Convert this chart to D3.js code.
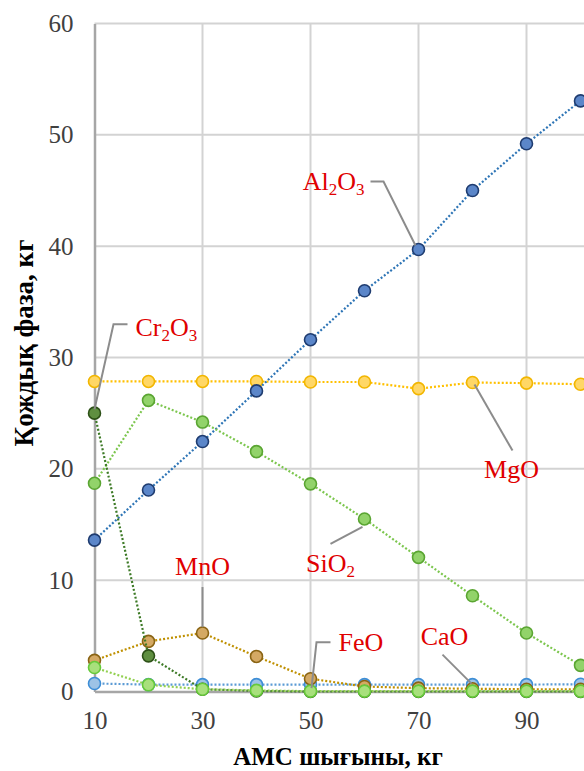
<!DOCTYPE html>
<html><head><meta charset="utf-8">
<script src="https://cdn.jsdelivr.net/npm/d3@7"></script>
<style>
html,body{margin:0;padding:0;background:#fff;overflow:hidden;}
svg{display:block;}
svg text{font-family:'Liberation Serif','Times New Roman',serif;}
</style></head>
<body><svg id="c" width="584" height="771"></svg>
<script>
// ---- data ----
const xValues = [10,20,30,40,50,60,70,80,90,100];
const xTicks = [10,30,50,70,90];
const xGrid = [10,30,50,70,90,110];
const yTicks = [0,10,20,30,40,50,60];
const seriesNames = ["MgO","Al2O3","SiO2","CaO","MnO","Cr2O3","FeO"];
const MgO   = [27.85,27.85,27.85,27.85,27.8,27.8,27.2,27.75,27.7,27.6];
const Al2O3 = [13.6,18.1,22.45,27.0,31.6,36.0,39.7,45.0,49.2,53.05];
const SiO2  = [18.7,26.15,24.2,21.55,18.65,15.5,12.05,8.6,5.25,2.35];
const CaO   = [0.72,0.62,0.62,0.62,0.62,0.62,0.62,0.62,0.62,0.65];
const MnO   = [2.8,4.5,5.25,3.15,1.15,0.45,0.3,0.25,0.2,0.2];
const Cr2O3 = [25.0,3.2,0.2,0.05,0,0,0,0,0,0];
const FeO   = [2.15,0.6,0.2,0.1,0.03,0.03,0.03,0.03,0.03,0.03];
const xTitle = "АМС шығыны, кг";
const yTitle = "Қождық фаза, кг";

const values = {MgO, Al2O3, SiO2, CaO, MnO, Cr2O3, FeO};
const styles = {
  MgO:   {line:"#FFC000", fill:"#FFD766", stroke:"#F2B600"},
  Al2O3: {line:"#2E75B6", fill:"#5B86C9", stroke:"#1F3C70"},
  SiO2:  {line:"#7CC64E", fill:"#92D36A", stroke:"#5AA532"},
  CaO:   {line:"#5B9BD5", fill:"#9DC3E6", stroke:"#3E8ED6"},
  MnO:   {line:"#BF9000", fill:"#D4A964", stroke:"#8A6414"},
  Cr2O3: {line:"#3D7A26", fill:"#5F8F40", stroke:"#2D5117"},
  FeO:   {line:"#92D050", fill:"#A8E07C", stroke:"#66C93A"}
};
// annotations: label text parts [text, isSub], anchor point series/index, pixel offsets
const annotations = [
  {series:"Al2O3", i:6, parts:[["Al",0],["2",1],["O",0],["3",1]], anchor:"end", tx:-54, ty:-60, path:[[-48,-68],[-35,-68],[-3,-4]]},
  {series:"Cr2O3", i:0, parts:[["Cr",0],["2",1],["O",0],["3",1]], anchor:"start", tx:41, ty:-77, path:[[33,-89],[19,-89],[0,-4]]},
  {series:"MgO", i:7, parts:[["MgO",0]], anchor:"middle", tx:39, ty:95, path:[[40,68],[2,2]]},
  {series:"MnO", i:2, parts:[["MnO",0]], anchor:"middle", tx:0, ty:-58, path:[[0,-46],[0,-6]]},
  {series:"SiO2", i:5, parts:[["SiO",0],["2",1]], anchor:"middle", tx:-34, ty:53, path:[[-34,25],[-2,8]]},
  {series:"FeO", i:4, parts:[["FeO",0]], anchor:"start", tx:28, ty:-40, path:[[20,-49],[6,-49],[1,-3]]},
  {series:"CaO", i:7, parts:[["CaO",0]], anchor:"middle", tx:-28, ty:-40, path:[[-30,-30],[-1,-1]]}
];

// ---- scales ----
const x = d3.scaleLinear().domain([10,110]).range([94.5,634.5]);
const y = d3.scaleLinear().domain([0,60]).range([691.5,23.5]);
const svg = d3.select("#c");
const FONT = "'Liberation Serif','Times New Roman',serif";

// gridlines
const grid = svg.append("g");
grid.selectAll("line.h").data(yTicks.filter(d=>d>0)).join("line")
  .attr("x1",x(10)).attr("x2",x(110)).attr("y1",d=>y(d)).attr("y2",d=>y(d))
  .attr("stroke","#D3D3D3").attr("stroke-width",2);
grid.selectAll("line.v").data(xGrid.filter(d=>d>10)).join("line")
  .attr("y1",y(0)).attr("y2",y(60)).attr("x1",d=>x(d)).attr("x2",d=>x(d))
  .attr("stroke","#D3D3D3").attr("stroke-width",2);

// axes
const xAxis = d3.axisBottom(x).tickValues(xTicks).tickSize(0).tickPadding(20).tickFormat(d3.format("d"));
const yAxis = d3.axisLeft(y).tickValues(yTicks).tickSize(0).tickPadding(21).tickFormat(d3.format("d"));
const gx = svg.append("g").attr("transform",`translate(0,${y(0)})`).call(xAxis);
const gy = svg.append("g").attr("transform",`translate(${x(10)},0)`).call(yAxis);
[gx,gy].forEach(g=>{
  g.attr("font-family",FONT).attr("font-size",25);
  g.select(".domain").attr("stroke","#A6A6A6").attr("stroke-width",2.5);
  g.selectAll("text").attr("font-family",FONT).attr("font-size",25).attr("fill","#404040");
});

// series
const lineGen = d3.line().x((d,i)=>x(xValues[i])).y(d=>y(d));
seriesNames.forEach(name=>{
  const st = styles[name], vals = values[name];
  const g = svg.append("g");
  g.append("path").attr("d",lineGen(vals)).attr("fill","none")
    .attr("stroke",st.line).attr("stroke-width",2.2).attr("stroke-dasharray","2,2");
  g.selectAll("circle").data(vals).join("circle")
    .attr("cx",(d,i)=>x(xValues[i])).attr("cy",d=>y(d)).attr("r",6)
    .attr("fill",st.fill).attr("stroke",st.stroke).attr("stroke-width",1.6);
});

// annotations
annotations.forEach(a=>{
  const px = x(xValues[a.i]), py = y(values[a.series][a.i]);
  svg.append("path").attr("d",d3.line()(a.path.map(p=>[px+p[0],py+p[1]])))
    .attr("fill","none").attr("stroke","#8C8C8C").attr("stroke-width",2);
  const t = svg.append("text").attr("x",px+a.tx).attr("y",py+a.ty)
    .attr("text-anchor",a.anchor).attr("font-family",FONT).attr("font-size",26).attr("fill","#E00000");
  let prevSub = false;
  a.parts.forEach(p=>{
    const sub = !!p[1];
    t.append("tspan").attr("font-size",sub?17:26).attr("dy",sub?5:(prevSub?-5:0)).text(p[0]);
    prevSub = sub;
  });
});

// titles
svg.append("text").attr("x",338).attr("y",765).attr("text-anchor","middle").attr("font-family",FONT)
  .attr("font-size",25).attr("font-weight","bold").attr("fill","#000").text(xTitle);
svg.append("text").attr("transform","translate(33,343) rotate(-90)").attr("text-anchor","middle").attr("font-family",FONT)
  .attr("font-size",27).attr("font-weight","bold").attr("fill","#000").text(yTitle);
</script></body></html>
